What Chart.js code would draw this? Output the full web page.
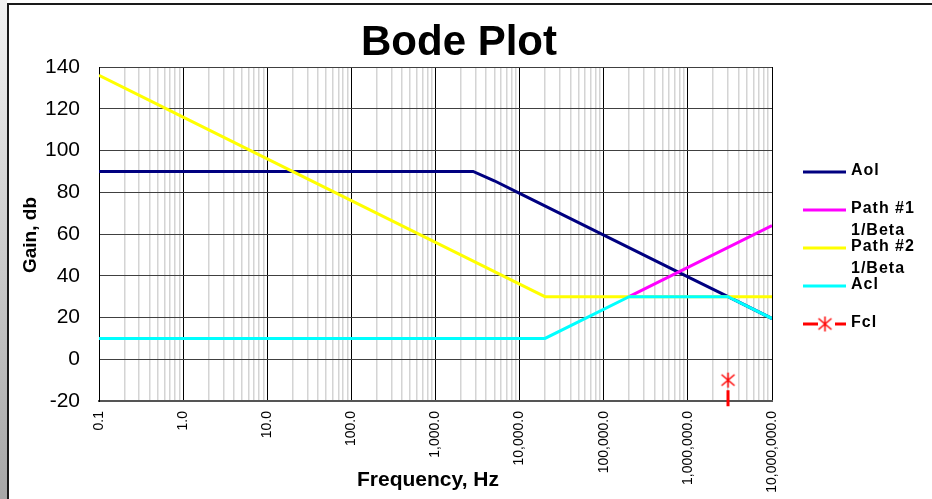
<!DOCTYPE html>
<html>
<head>
<meta charset="utf-8">
<title>Bode Plot</title>
<script src="https://cdn.jsdelivr.net/npm/chart.js@4.4.1/dist/chart.umd.min.js"></script>
<style>
  html, body { margin: 0; padding: 0; background: #fff; }
  #wrap { width: 932px; height: 499px; }
</style>
</head>
<body>
<div id="wrap"><canvas id="bode" width="932" height="499"></canvas></div>
<script>
// Frequencies (Hz) and gains (dB)
const aolFreq = [0.1, 2800, 5000, 10000, 100000, 1000000, 3000000, 10000000];
const aolGain = [90, 90, 85.5, 79.5, 59.5, 39.5, 30, 19.5];

// path #1 lies under path #2 below ~200 kHz, only the rising part shows
const path1Freq = [200000, 1000000, 10000000];
const path1Gain = [30, 44, 64];

const path2Freq = [0.1, 1, 10, 100, 1000, 10000, 20000, 10000000];
const path2Gain = [136, 116, 96, 76, 56, 36, 30, 30];

const aclFreq = [0.1, 20000, 200000, 3000000, 10000000];
const aclGain = [10, 10, 30, 30, 19.5];

const fclFreq = [3000000, 3000000];
const fclGain = [-10, -40];

const seriesNames = ['Aol', 'Path #1\n1/Beta', 'Path #2\n1/Beta', 'Acl', 'Fcl'];
const freqLabels = ['0.1', '1.0', '10.0', '100.0', '1,000.0', '10,000.0',
  '100,000.0', '1,000,000.0', '10,000,000.0'];
const gainMin = -20, gainMax = 140, gainStep = 20;

const FONT = '"Liberation Sans", Arial, sans-serif';

// pair up x/y arrays for the scatter datasets
function points(xs, ys) {
  return xs.map((x, i) => ({ x: x, y: ys[i] }));
}

function isDecade(v) {
  const l = Math.log10(v);
  return Math.abs(l - Math.round(l)) < 1e-9;
}

// Excel style asterisk marker (X plus vertical bar)
function asteriskMarker() {
  const c = document.createElement('canvas');
  c.width = 17; c.height = 17;
  const g = c.getContext('2d');
  g.strokeStyle = '#ff0000';
  g.lineWidth = 1.5;
  g.beginPath();
  g.moveTo(8.5, 1); g.lineTo(8.5, 16);
  g.moveTo(2, 3); g.lineTo(15, 14);
  g.moveTo(15, 3); g.lineTo(2, 14);
  g.stroke();
  return c;
}
const marker = asteriskMarker();

// frame, titles and legend drawn around the plot
const decor = {
  id: 'decor',
  beforeDraw(chart) {
    const ctx = chart.ctx;
    ctx.save();
    ctx.fillStyle = '#fff';
    ctx.fillRect(0, 0, chart.width, chart.height);
    const grad = ctx.createLinearGradient(0, 0, 0, chart.height);
    grad.addColorStop(0, '#f2f2f2');
    grad.addColorStop(1, '#a6a6a6');
    ctx.fillStyle = grad;
    ctx.fillRect(0, 0, 7, chart.height);
    ctx.fillStyle = '#1a1a1a';
    ctx.fillRect(7, 3, chart.width - 7, 2);
    ctx.fillRect(7, 3, 2, chart.height - 3);
    ctx.restore();
  },
  afterDraw(chart) {
    const ctx = chart.ctx;
    ctx.save();
    ctx.fillStyle = '#000';
    ctx.textAlign = 'center';
    ctx.textBaseline = 'alphabetic';
    ctx.font = 'bold 42px ' + FONT;
    ctx.fillText('Bode Plot', 459, 55);

    ctx.textBaseline = 'middle';
    ctx.font = 'bold 21px ' + FONT;
    ctx.fillText('Frequency, Hz', 428, 480);

    ctx.save();
    ctx.translate(31, 235);
    ctx.rotate(-Math.PI / 2);
    ctx.font = 'bold 19px ' + FONT;
    ctx.fillText('Gain, db', 0, 0);
    ctx.restore();

    // legend
    const rows = [172, 210, 248, 286, 324];
    ctx.textAlign = 'left';
    ctx.font = 'bold 16px ' + FONT;
    ctx.letterSpacing = '1px';
    chart.data.datasets.forEach((ds, i) => {
      const y = rows[i];
      ctx.strokeStyle = ds.borderColor;
      ctx.lineWidth = 3;
      ctx.beginPath();
      if (ds.label === 'Fcl') {
        ctx.moveTo(803, y); ctx.lineTo(818, y);
        ctx.moveTo(835, y); ctx.lineTo(846, y);
      } else {
        ctx.moveTo(803, y); ctx.lineTo(846, y);
      }
      ctx.stroke();
      if (ds.label === 'Fcl') {
        ctx.drawImage(marker, 825 - 8.5, y - 8.5);
      }
      const lines = seriesNames[i].split('\n');
      ctx.fillText(lines[0], 851, y - 1);
      if (lines[1]) ctx.fillText(lines[1], 851, y + 21);
    });
    ctx.restore();
  }
};

const ctx = document.getElementById('bode').getContext('2d');
new Chart(ctx, {
  type: 'scatter',
  data: {
    datasets: [
      {
        label: 'Aol',
        data: points(aolFreq, aolGain),
        borderColor: '#000080',
        borderWidth: 3,
        showLine: true,
        pointRadius: 0,
        order: 5
      },
      {
        label: 'Path #1 1/Beta',
        data: points(path1Freq, path1Gain),
        borderColor: '#ff00ff',
        borderWidth: 3,
        showLine: true,
        pointRadius: 0,
        order: 4
      },
      {
        label: 'Path #2 1/Beta',
        data: points(path2Freq, path2Gain),
        borderColor: '#ffff00',
        borderWidth: 3,
        showLine: true,
        pointRadius: 0,
        order: 3
      },
      {
        label: 'Acl',
        data: points(aclFreq, aclGain),
        borderColor: '#00ffff',
        borderWidth: 3,
        showLine: true,
        pointRadius: 0,
        order: 2
      },
      {
        label: 'Fcl',
        data: points(fclFreq, fclGain),
        borderColor: '#ff0000',
        backgroundColor: '#ff0000',
        borderWidth: 3,
        borderDash: [16, 10],
        borderDashOffset: 16,
        showLine: true,
        pointStyle: marker,
        pointRadius: [8, 0],
        clip: { left: 0, top: 0, right: 0, bottom: 7 },
        order: 1
      }
    ]
  },
  options: {
    responsive: false,
    animation: false,
    layout: { padding: { top: 67, right: 160, left: 0, bottom: 0 } },
    plugins: {
      legend: { display: false },
      tooltip: { enabled: false },
      title: { display: false }
    },
    scales: {
      x: {
        type: 'logarithmic',
        min: 0.1,
        max: 10000000,
        afterBuildTicks: scale => {
          const ticks = [];
          for (let e = -1; e < 7; e++) {
            for (let k = 1; k < 10; k++) {
              ticks.push({ value: +(k * Math.pow(10, e)).toPrecision(3) });
            }
          }
          ticks.push({ value: 10000000 });
          scale.ticks = ticks;
        },
        afterFit: scale => { scale.height = 98; },
        grid: {
          drawTicks: false,
          color: c => isDecade(c.tick.value) ? '#000000' : '#d4d4d4',
          lineWidth: c => isDecade(c.tick.value) ? 1 : 1.5
        },
        border: { color: '#555555', width: 2 },
        ticks: {
          autoSkip: false,
          minRotation: 90,
          maxRotation: 90,
          padding: 10,
          color: '#000',
          font: { family: FONT, size: 14 },
          callback: v => isDecade(v) ? freqLabels[Math.round(Math.log10(v)) + 1] : ''
        }
      },
      y: {
        min: gainMin,
        max: gainMax,
        afterFit: scale => { scale.width = 99; },
        grid: { drawTicks: false, color: '#404040', lineWidth: 1 },
        border: { color: '#000000', width: 1 },
        ticks: {
          stepSize: gainStep,
          padding: 19,
          color: '#000',
          font: { family: FONT, size: 21 }
        }
      }
    }
  },
  plugins: [decor]
});
</script>
</body>
</html>
